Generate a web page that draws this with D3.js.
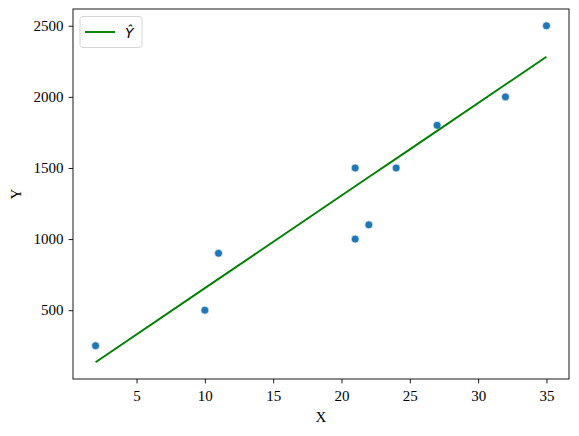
<!DOCTYPE html>
<html><head><meta charset="utf-8">
<script src="https://cdn.jsdelivr.net/npm/d3@7"></script>
<style>body{margin:0;background:#fff}svg{display:block}</style>
</head><body><svg id="c" width="579" height="436"></svg>
<script>
const X = [2, 10, 11, 21, 21, 22, 24, 27, 32, 35];
const Y = [250, 500, 900, 1500, 1000, 1100, 1500, 1800, 2000, 2500];
const YHAT = [134, 655, 720, 1371, 1371, 1436, 1566, 1761, 2087, 2282];
const xTicks = [5, 10, 15, 20, 25, 30, 35];
const yTicks = [500, 1000, 1500, 2000, 2500];

const FONT = "'Liberation Serif', 'DejaVu Serif', serif";
const FS = 15;
const svg = d3.select("#c");
const L = 73, R = 569, T = 9, B = 379;
const x = d3.scaleLinear().domain([0.35, 36.65]).range([L, R]);
const y = d3.scaleLinear().domain([16, 2618]).range([B, T]);

const xa = svg.append("g").attr("transform", `translate(0,${B})`)
  .call(d3.axisBottom(x).tickValues(xTicks).tickSize(4.4).tickPadding(6.5).tickFormat(d3.format("d")));
const ya = svg.append("g").attr("transform", `translate(${L},0)`)
  .call(d3.axisLeft(y).tickValues(yTicks).tickSize(4.4).tickPadding(5).tickFormat(d3.format("d")));
[xa, ya].forEach(a => {
  a.attr("font-size", FS).attr("font-family", FONT);
  a.select(".domain").remove();
  a.selectAll(".tick line").attr("stroke", "#000").attr("stroke-width", 0.9);
  a.selectAll(".tick text").attr("fill", "#000").attr("font-size", FS).attr("font-family", FONT);
});

svg.append("rect").attr("x", L).attr("y", T).attr("width", R - L).attr("height", B - T)
  .attr("fill", "none").attr("stroke", "#000").attr("stroke-width", 0.9);

svg.append("g").selectAll("circle").data(X.map((v, i) => [v, Y[i]])).join("circle")
  .attr("cx", d => x(d[0])).attr("cy", d => y(d[1])).attr("r", 4)
  .attr("fill", "#1f77b4").attr("stroke", "#fff").attr("stroke-width", 0.7);

svg.append("path").datum(X.map((v, i) => [v, YHAT[i]]))
  .attr("d", d3.line().x(d => x(d[0])).y(d => y(d[1])))
  .attr("fill", "none").attr("stroke", "green").attr("stroke-width", 1.9);

svg.append("text").attr("x", (L + R) / 2).attr("y", 422).attr("text-anchor", "middle")
  .attr("font-size", FS).attr("font-family", FONT).text("X");
svg.append("text").attr("transform", `translate(21,${(T + B) / 2}) rotate(-90)`).attr("text-anchor", "middle")
  .attr("font-size", FS).attr("font-family", FONT).text("Y");

const lg = svg.append("g");
lg.append("rect").attr("x", 80).attr("y", 16.5).attr("width", 62).attr("height", 31).attr("rx", 3)
  .attr("fill", "#fff").attr("fill-opacity", 0.8).attr("stroke", "#d0d0d0").attr("stroke-width", 0.9);
lg.append("line").attr("x1", 85).attr("x2", 115).attr("y1", 32).attr("y2", 32)
  .attr("stroke", "green").attr("stroke-width", 1.9);
lg.append("text").attr("x", 125).attr("y", 38).attr("font-size", 14).attr("font-style", "italic")
  .attr("font-family", "DejaVu Sans").text("Ŷ");
</script></body></html>
